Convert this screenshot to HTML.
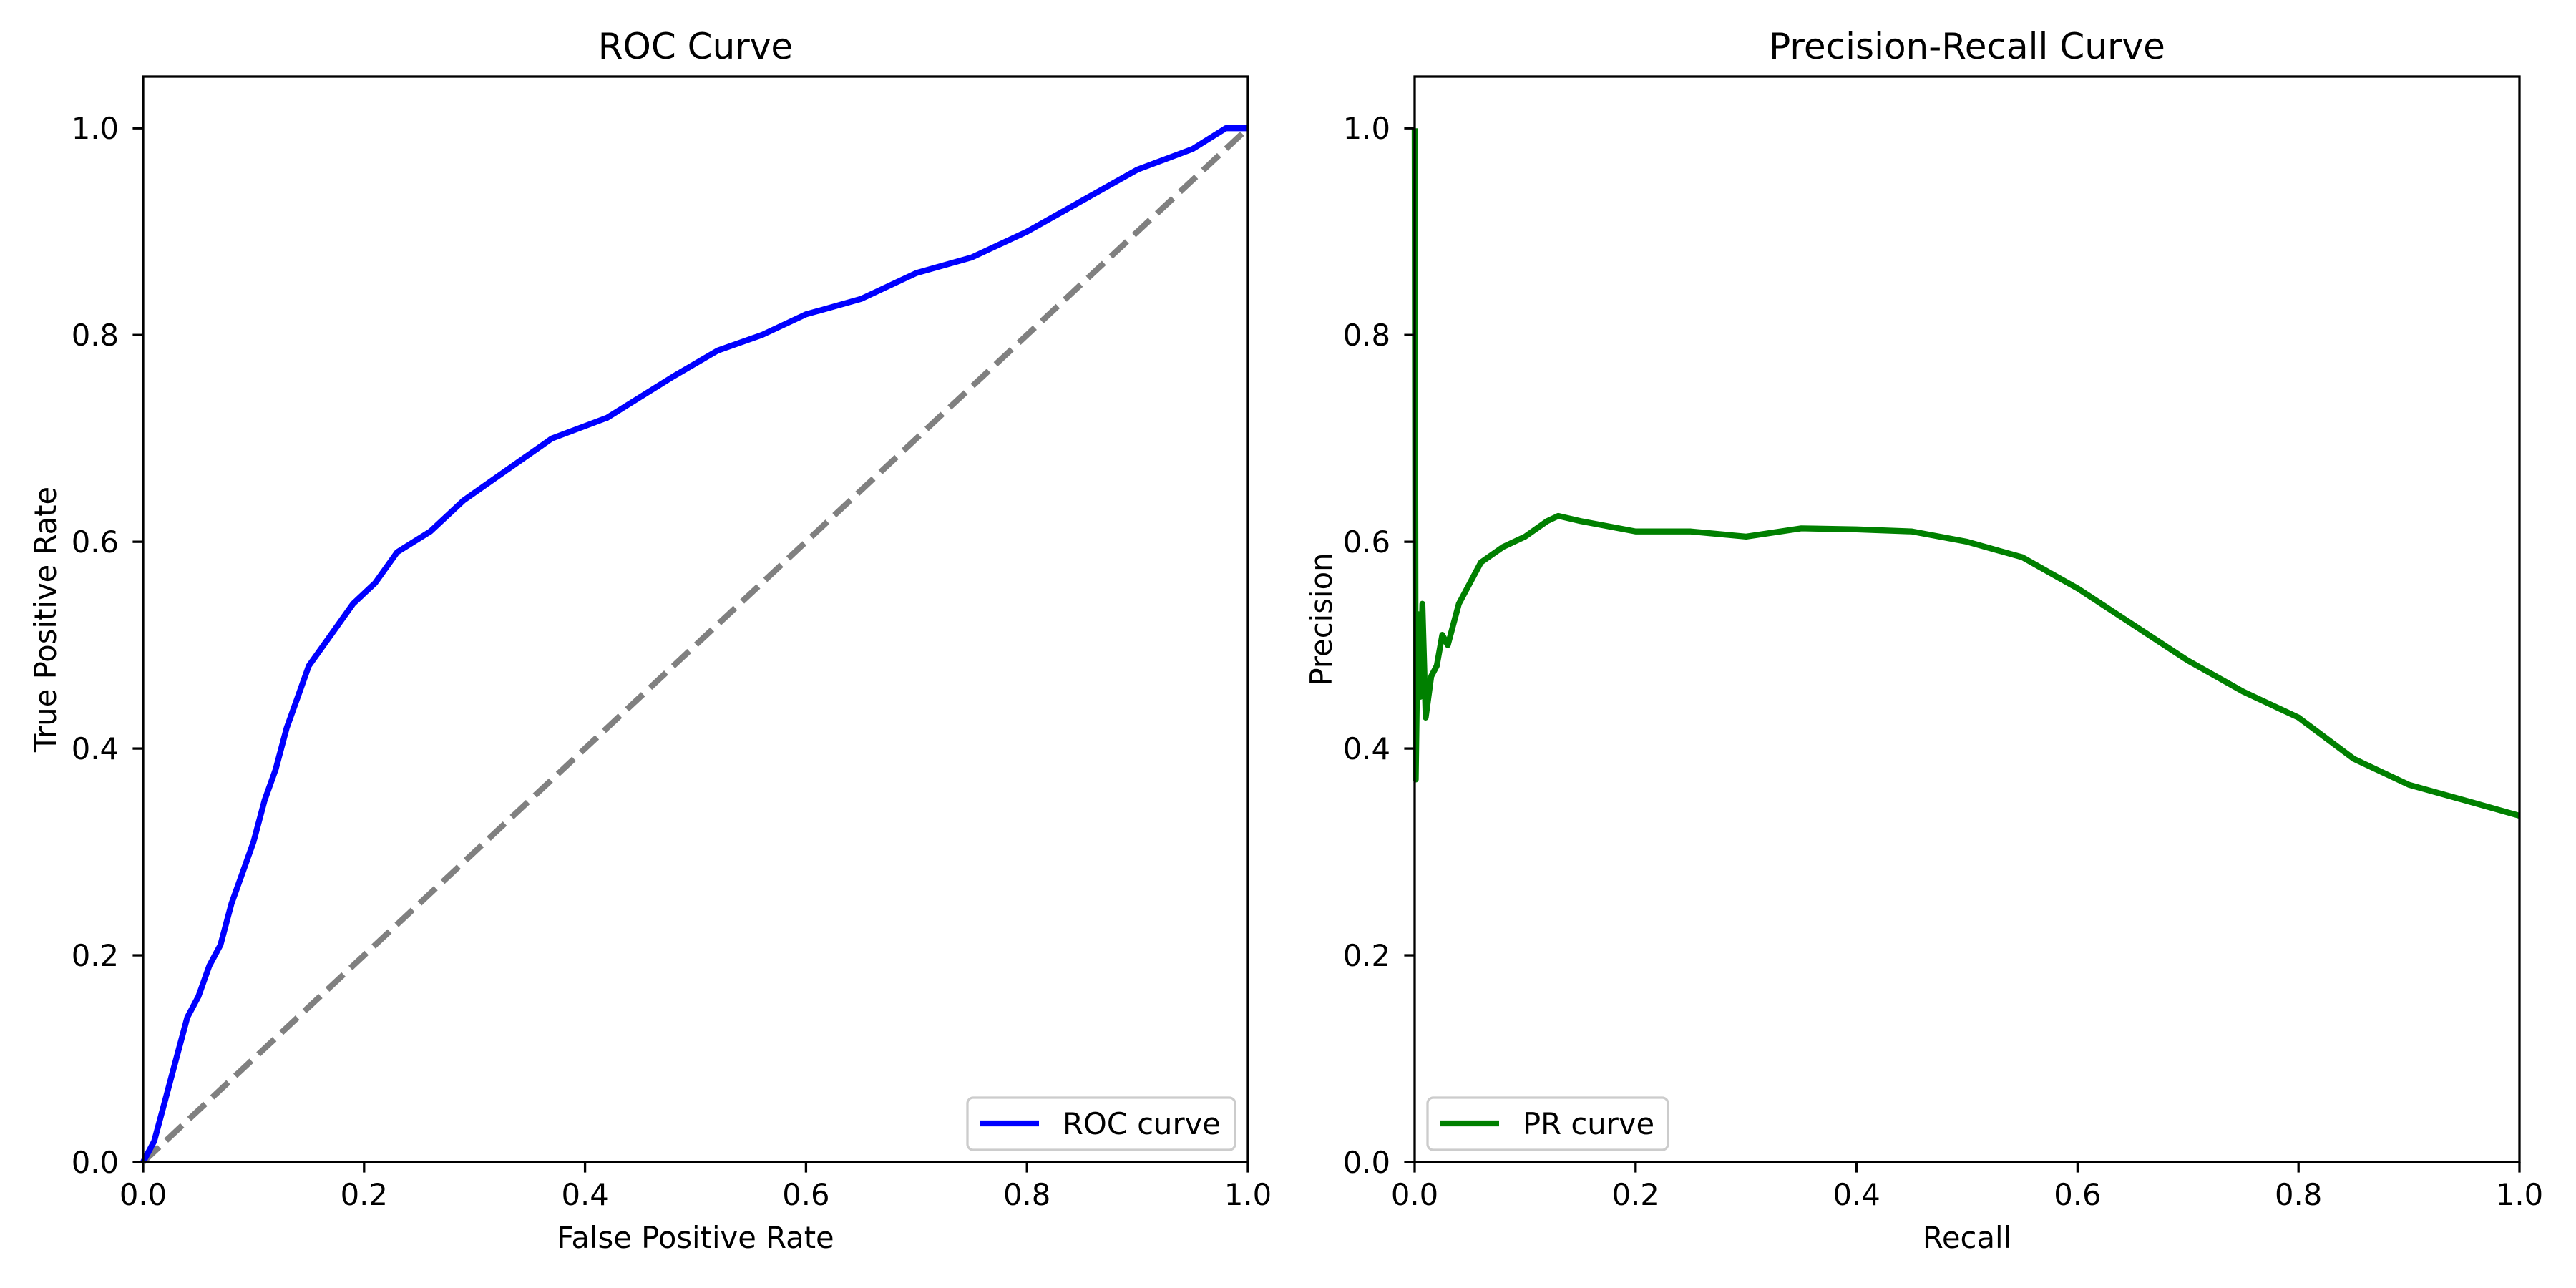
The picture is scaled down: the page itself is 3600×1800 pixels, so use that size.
<!DOCTYPE html>
<html><head><meta charset="utf-8"><style>
html,body{margin:0;padding:0;background:#fff}
svg{display:block;font-family:"DejaVu Sans","Liberation Sans",sans-serif}
</style></head><body>
<svg id="fig" xmlns="http://www.w3.org/2000/svg" width="3600" height="1800" viewBox="0 0 3600 1800">
<rect width="3600" height="1800" fill="#fff"/>
</svg>
<script>
const rocFpr=[0,0.01,0.02,0.03,0.04,0.05,0.06,0.07,0.08,0.09,0.10,0.11,0.12,0.13,0.14,0.15,0.17,0.19,0.21,0.23,0.26,0.29,0.33,0.37,0.42,0.45,0.48,0.52,0.56,0.60,0.65,0.70,0.75,0.80,0.85,0.90,0.95,0.98,1.0];
const rocTpr=[0,0.02,0.06,0.10,0.14,0.16,0.19,0.21,0.25,0.28,0.31,0.35,0.38,0.42,0.45,0.48,0.51,0.54,0.56,0.59,0.61,0.64,0.67,0.70,0.72,0.74,0.76,0.785,0.80,0.82,0.835,0.86,0.875,0.90,0.93,0.96,0.98,1.0,1.0];
const prRecall=[0,0.001,0.003,0.005,0.007,0.01,0.015,0.02,0.025,0.03,0.04,0.05,0.06,0.08,0.10,0.12,0.13,0.15,0.20,0.25,0.30,0.35,0.40,0.45,0.50,0.55,0.60,0.65,0.70,0.75,0.80,0.85,0.90,0.95,1.0];
const prPrecision=[1.0,0.37,0.53,0.45,0.54,0.43,0.47,0.48,0.51,0.50,0.54,0.56,0.58,0.595,0.605,0.62,0.625,0.62,0.61,0.61,0.605,0.613,0.612,0.61,0.60,0.585,0.555,0.52,0.485,0.455,0.43,0.39,0.365,0.35,0.335];
const xTicks=[0,0.2,0.4,0.6,0.8,1.0];
const yTicks=[0,0.2,0.4,0.6,0.8,1.0];
const tickLabels=["0.0","0.2","0.4","0.6","0.8","1.0"];

const NS="http://www.w3.org/2000/svg";
const fig=document.getElementById('fig');
function mk(tag,attrs,parent,text){const e=document.createElementNS(NS,tag);for(const k in attrs)e.setAttribute(k,attrs[k]);if(text!==undefined)e.textContent=text;(parent||fig).appendChild(e);return e;}

function axes(cfg){
  const L=cfg.left,R=L+1544,T=107,B=1624;
  const sx=v=>L+(R-L)*v;
  const sy=v=>B-(B-T)*v/1.05;
  const g=mk('g',{});
  
  
  if(cfg.diag){
    const d=mk('line',{x1:sx(0),y1:sy(0),x2:sx(1),y2:sy(1),stroke:'#808080','stroke-width':8.3,'stroke-dasharray':'30.8 13.3'},g);
    
    
  }
  const pts=cfg.xs.map((x,i)=>sx(x).toFixed(1)+','+sy(cfg.ys[i]).toFixed(1)).join(' ');
  const pl=mk('polyline',{points:pts,fill:'none',stroke:cfg.color,'stroke-width':8.3,'stroke-linejoin':'round'},g);
  
  
  const fr=mk('rect',{x:L,y:T,width:R-L,height:B-T,fill:'none',stroke:'#000','stroke-width':3.3},g);
  
  
  xTicks.forEach((v,i)=>{
    mk('line',{x1:sx(v),y1:B,x2:sx(v),y2:B+14.6,stroke:'#000','stroke-width':3.3},g);
    const t=mk('text',{x:sx(v),y:1684,'font-size':41.7,'text-anchor':'middle'},g,tickLabels[i]);
    
    
  });
  yTicks.forEach((v,i)=>{
    mk('line',{x1:L,y1:sy(v),x2:L-14.6,y2:sy(v),stroke:'#000','stroke-width':3.3},g);
    const t=mk('text',{x:L-34,y:sy(v)+15,'font-size':41.7,'text-anchor':'end'},g,tickLabels[i]);
    
    
  });
  const ti=mk('text',{x:(L+R)/2,y:82,'font-size':50,'text-anchor':'middle'},g,cfg.title);
  
  
  const xl=mk('text',{x:(L+R)/2,y:1744,'font-size':41.7,'text-anchor':'middle'},g,cfg.xlabel);
  
  
  const yx=cfg.ylabelX,yc=(T+B)/2;
  const yl=mk('text',{x:yx,y:yc,'font-size':41.7,'text-anchor':'middle',transform:`rotate(-90 ${yx} ${yc})`},g,cfg.ylabel);
  
  
  const lg=mk('g',{},g);
  
  
  mk('rect',{x:cfg.legX,y:1534,width:cfg.legW,height:73,rx:8,fill:'#fff','fill-opacity':0.8,stroke:'#cccccc','stroke-width':3.3},lg);
  mk('line',{x1:cfg.legX+17,y1:1570,x2:cfg.legX+100,y2:1570,stroke:cfg.color,'stroke-width':8.3},lg);
  const lt=mk('text',{x:cfg.legX+133,y:1585,'font-size':41.7},lg,cfg.legText);
  
  
}
axes({name:'roc-chart',left:200,xs:rocFpr,ys:rocTpr,color:'#0000ff',seriesName:'roc-curve-line',diag:true,title:'ROC Curve',xlabel:'False Positive Rate',ylabel:'True Positive Rate',ylabelX:78,legX:1352,legW:374,legText:'ROC curve'});
axes({name:'pr-chart',left:1977,xs:prRecall,ys:prPrecision,color:'#008000',seriesName:'pr-curve-line',diag:false,title:'Precision-Recall Curve',xlabel:'Recall',ylabel:'Precision',ylabelX:1861,legX:1995,legW:336,legText:'PR curve'});
</script>
</body></html>
